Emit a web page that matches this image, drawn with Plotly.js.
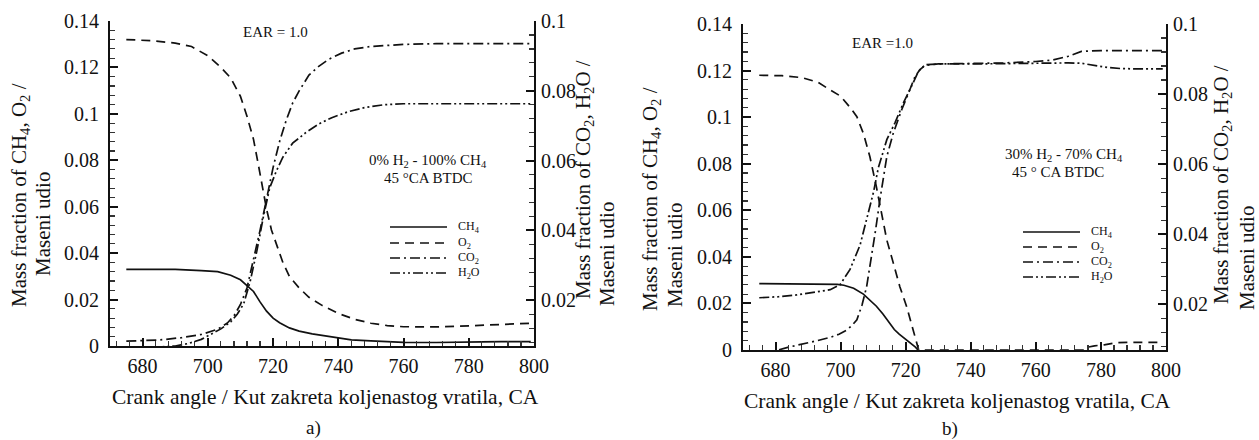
<!DOCTYPE html>
<html><head><meta charset="utf-8">
<script src="https://cdn.plot.ly/plotly-3.0.1.min.js"></script>
<style>html,body{margin:0;padding:0;background:#fff;}#chart{width:1259px;height:440px;}</style>
</head><body><div id="chart"></div>
<script>
// ---------- Panel a) 0% H2 - 100% CH4 ----------
const aCH4_x = [675, 690, 698, 703, 707, 710, 712, 714, 716, 718, 720, 722, 725, 728, 732, 736, 740, 744, 750, 756, 760, 770, 780, 784, 790, 799];
const aCH4_y = [0.033, 0.033, 0.0325, 0.032, 0.0305, 0.0285, 0.026, 0.0235, 0.019, 0.015, 0.012, 0.0100, 0.0078, 0.0064, 0.0052, 0.0043, 0.0033, 0.0026, 0.0022, 0.0019, 0.0016, 0.0015, 0.0015, 0.0018, 0.0019, 0.0019];
const aO2_x = [675, 683, 690, 695, 700, 704, 707, 710, 712, 714, 715.5, 717, 718, 719.5, 721, 723, 725, 728, 731, 735, 740, 745, 750, 755, 760, 770, 780, 790, 799];
const aO2_y = [0.132, 0.1315, 0.1305, 0.129, 0.125, 0.120, 0.1155, 0.1075, 0.099, 0.089, 0.078, 0.067, 0.059, 0.050, 0.044, 0.036, 0.030, 0.025, 0.021, 0.0175, 0.014, 0.0115, 0.0098, 0.0088, 0.0083, 0.0082, 0.0087, 0.0094, 0.0098];
const aCO2_x = [675, 685, 692, 698, 703, 706, 708, 710, 712, 714, 716, 718, 720, 722, 724, 726, 728, 731, 734, 737, 741, 745, 750, 755, 760, 770, 780, 790, 799];
const aCO2_y = [0.0083, 0.0086, 0.0093, 0.0102, 0.0117, 0.0135, 0.0155, 0.0188, 0.0235, 0.0315, 0.040, 0.049, 0.058, 0.0655, 0.0715, 0.0765, 0.080, 0.0845, 0.087, 0.089, 0.0908, 0.092, 0.0927, 0.093, 0.0933, 0.0935, 0.0935, 0.0935, 0.0935];
const aH2O_x = [675, 685, 690, 694, 698, 701, 704, 707, 709, 711, 713, 715, 717, 719, 721, 723, 726, 730, 734, 738, 743, 748, 754, 760, 770, 780, 790, 799];
const aH2O_y = [0.0065, 0.0066, 0.0069, 0.0076, 0.0088, 0.0102, 0.0118, 0.0138, 0.0160, 0.0190, 0.0255, 0.034, 0.0438, 0.0523, 0.057, 0.061, 0.065, 0.068, 0.0705, 0.0723, 0.074, 0.0752, 0.076, 0.0763, 0.0763, 0.0763, 0.0763, 0.0763];

// ---------- Panel b) 30% H2 - 70% CH4 ----------
const bCH4_x = [675, 688, 689, 699, 701, 704, 707, 709, 711, 713, 715, 716.5, 718, 720, 722, 723, 723.8];
const bCH4_y = [0.0285, 0.0285, 0.0282, 0.0282, 0.0278, 0.0265, 0.0240, 0.0215, 0.0188, 0.0155, 0.0115, 0.0088, 0.0068, 0.0045, 0.0025, 0.0012, 0.0];
const bO2_x = [675, 682, 688, 693, 697, 700, 703, 705, 707, 709, 711, 712.6, 714.2, 716.2, 718.2, 720.3, 722, 723, 724, 740, 760, 775, 776, 778, 781, 785, 790, 799];
const bO2_y = [0.118, 0.1178, 0.117, 0.115, 0.1115, 0.109, 0.104, 0.1002, 0.093, 0.083, 0.070, 0.0587, 0.0472, 0.0373, 0.0272, 0.0186, 0.0100, 0.0043, 0, 0, 0, 0, 0.0012, 0.0018, 0.0022, 0.0032, 0.0033, 0.0033];
const bCO2_x = [675, 680, 684.4, 689.6, 693, 696.8, 699.5, 701.9, 703.5, 705, 706.6, 708, 709, 710.6, 712.1, 714.2, 716.2, 718.8, 721.3, 722.9, 724.4, 726, 730, 740, 750, 760, 765, 770, 774, 780, 790, 799];
const bCO2_y = [0.0062, 0.0068, 0.0079, 0.0089, 0.0097, 0.0106, 0.0115, 0.0127, 0.0140, 0.0156, 0.0199, 0.0251, 0.0308, 0.0403, 0.050, 0.0622, 0.0689, 0.0756, 0.0813, 0.0851, 0.087, 0.0882, 0.0886, 0.0887, 0.0889, 0.0893, 0.0897, 0.0908, 0.0922, 0.0924, 0.0924, 0.0924];
const bH2O_x = [675, 681, 686.5, 692.6, 696.8, 699.8, 702.9, 706, 708, 710.1, 711.6, 714.2, 716.7, 719.3, 722.3, 723.9, 726, 730, 740, 750, 760, 770, 774, 778, 782, 786, 790, 799];
const bH2O_y = [0.0219, 0.0222, 0.0227, 0.0235, 0.0242, 0.0256, 0.030, 0.037, 0.044, 0.052, 0.059, 0.067, 0.0718, 0.0775, 0.0832, 0.0865, 0.0884, 0.0886, 0.0886, 0.0887, 0.0889, 0.0889, 0.0888, 0.0882, 0.0876, 0.0873, 0.0872, 0.0872];

// ---------- Text ----------
const xTickStart = 680, xTickStep = 20;
const seriesNames = ['CH<sub>4</sub>', 'O<sub>2</sub>', 'CO<sub>2</sub>', 'H<sub>2</sub>O'];
const xTitle = 'Crank angle / Kut zakreta koljenastog vratila, CA';
const yLeftTitle = ['Mass fraction of CH<sub>4</sub>, O<sub>2</sub> /', 'Maseni udio'];
const yRightTitle = ['Mass fraction of CO<sub>2</sub>, H<sub>2</sub>O /', 'Maseni udio'];
const caseA = ['0% H<sub>2</sub> - 100% CH<sub>4</sub>', '45 °CA BTDC'];
const caseB = ['30% H<sub>2</sub> - 70% CH<sub>4</sub>', '45 ° CA BTDC'];

// ---------- Rendering ----------
const W = 1259, H = 440;
const px = x => x / W, py = y => 1 - y / H;
const FONT = 'Liberation Serif, Times New Roman, serif';
const INK = '#111';
const DASH = ['solid', '9px,6px', '10px,4px,2px,4px', '10px,3px,2px,3px,2px,3px'];
const LW = 1.7;

function tr(x, y, xa, ya, i) {
  return {x: x, y: y, xaxis: xa, yaxis: ya, type: 'scatter', mode: 'lines',
    line: {color: INK, width: LW, dash: DASH[i]}, name: seriesNames[i].replace(/<[^>]+>/g, ''),
    hoverinfo: 'skip', showlegend: false};
}
const data = [
  tr(aCH4_x, aCH4_y, 'x', 'y', 0), tr(aO2_x, aO2_y, 'x', 'y', 1),
  tr(aCO2_x, aCO2_y, 'x', 'y2', 2), tr(aH2O_x, aH2O_y, 'x', 'y2', 3),
  tr(bCH4_x, bCH4_y, 'x2', 'y3', 0), tr(bO2_x, bO2_y, 'x2', 'y3', 1),
  tr(bCO2_x, bCO2_y, 'x2', 'y4', 2), tr(bH2O_x, bH2O_y, 'x2', 'y4', 3)
];

const tickfont = {family: FONT, size: 20, color: INK};
const minorBase = {ticks: 'inside', ticklen: 5, tickwidth: 1.2, tickcolor: '#333', showgrid: false};
function baseAx(extra) {
  return Object.assign({
    showline: true, linewidth: 2, linecolor: INK, showgrid: false, zeroline: false,
    ticks: 'inside', ticklen: 8, tickwidth: 2, tickcolor: INK, tickfont: tickfont,
    fixedrange: true
  }, extra);
}
function xAx(d0, d1, anchor) {
  return baseAx({domain: [px(d0), px(d1)], anchor: anchor, range: [670, 800],
    tick0: xTickStart, dtick: xTickStep, ticklabelstandoff: 1,
    minor: Object.assign({tick0: xTickStart, dtick: 4}, minorBase)});
}
function yAx(top, bot, anchor, range, extra) {
  return baseAx(Object.assign({domain: [py(bot), py(top)], anchor: anchor, range: range,
    tick0: 0, dtick: 0.02,
    minor: Object.assign({tick0: 0, dtick: 0.004}, minorBase)}, extra));
}

const layout = {
  width: W, height: H, margin: {l: 0, r: 0, t: 0, b: 0},
  paper_bgcolor: '#fff', plot_bgcolor: 'rgba(0,0,0,0)', showlegend: false, hovermode: false,
  font: {family: FONT, color: INK},
  xaxis: xAx(110, 534, 'y'),
  yaxis: yAx(21, 346, 'x', [0, 0.14], {ticklabelstandoff: 5}),
  yaxis2: yAx(21, 346, 'x', [0.0069, 0.1], {overlaying: 'y', side: 'right', ticklabelstandoff: 1}),
  xaxis2: xAx(743, 1166, 'y3'),
  yaxis3: yAx(24, 350, 'x2', [0, 0.14], {ticklabelstandoff: 5}),
  yaxis4: yAx(24, 350, 'x2', [0.007, 0.1], {overlaying: 'y3', side: 'right', ticklabelstandoff: 1}),
  annotations: [], shapes: []
};

function ann(text, x, y, size, opts) {
  layout.annotations.push(Object.assign({text: text, x: px(x), y: py(y), xref: 'paper', yref: 'paper',
    showarrow: false, xanchor: 'center', yanchor: 'middle', font: {family: FONT, size: size, color: INK}}, opts || {}));
}
// axis titles
ann(xTitle, 325, 397, 21.5);
ann(xTitle, 957, 401, 21.5);
ann(yLeftTitle[0], 20, 195, 21, {textangle: -90});
ann(yLeftTitle[1], 43, 224, 21, {textangle: -90});
ann(yRightTitle[0], 584, 180, 21, {textangle: -90});
ann(yRightTitle[1], 607, 254, 21, {textangle: -90});
ann(yLeftTitle[0], 651, 199, 21, {textangle: -90});
ann(yLeftTitle[1], 675, 255, 21, {textangle: -90});
ann(yRightTitle[0], 1222, 185, 21, {textangle: -90});
ann(yRightTitle[1], 1247, 258, 21, {textangle: -90});
// panel labels
ann('a)', 313, 428, 19);
ann('b)', 950, 429, 19);
// EAR
ann('EAR = 1.0', 275, 32, 15);
ann('EAR =1.0', 882, 43, 15);
// case text
ann(caseA[0], 428, 161, 15); ann(caseA[1], 428, 178, 15);
ann(caseB[0], 1064, 155, 15); ann(caseB[1], 1058, 172, 15);

// legends (line samples + labels)
function legend(x0, x1, ys) {
  ys.forEach((y, i) => {
    layout.shapes.push({type: 'line', xref: 'paper', yref: 'paper', x0: px(x0), x1: px(x1), y0: py(y), y1: py(y),
      line: {color: INK, width: LW, dash: DASH[i]}});
    ann(seriesNames[i], x1 + 9, y, 12, {xanchor: 'left'});
  });
}
legend(390, 447, [227, 243, 258, 273]);
legend(1023, 1080, [232, 247, 262, 277]);

Plotly.newPlot('chart', data, layout, {staticPlot: true, displayModeBar: false});
</script></body></html>
